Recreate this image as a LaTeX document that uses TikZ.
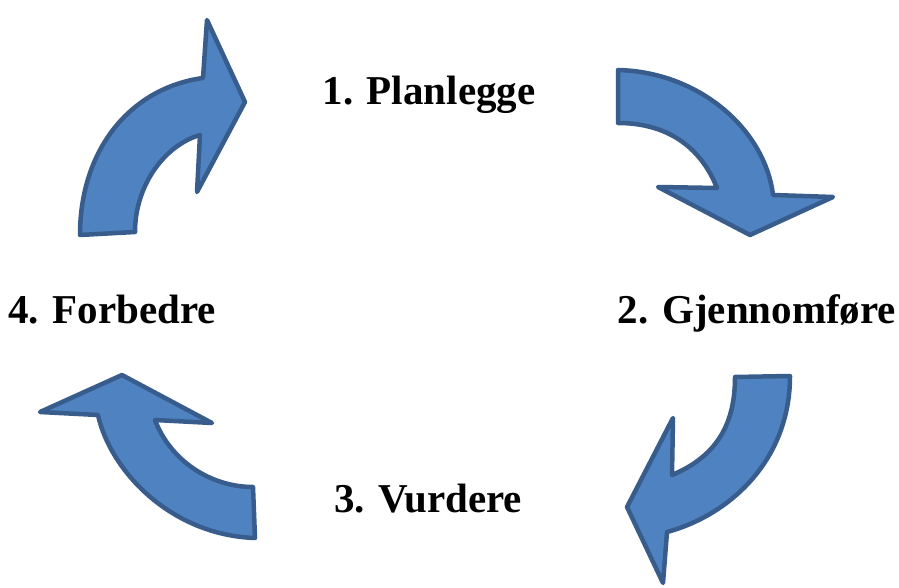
\documentclass[tikz,border=0pt]{standalone}
\usepackage{fontspec}
\setmainfont{Liberation Serif}
\usepackage{xcolor}
\usepackage{tikz}
\definecolor{arrowfill}{HTML}{4F82C0}
\definecolor{arrowline}{HTML}{385D8C}

\begin{document}
\begin{tikzpicture}[x=1pt,y=-1pt]
\tikzset{StepLabel/.style={anchor=base,font=\fontsize{41}{48}\selectfont\bfseries}}
\tikzset{BlockArrow/.style={fill=arrowfill,draw=arrowline,line width=4.5pt,line join=round}}
\useasboundingbox (0,0) rectangle (899,588);
\node[StepLabel] (plan) at (429,105) {1. Planlegge};
\node[StepLabel] (gjen) at (757,323) {2. Gjennomføre};
\node[StepLabel] (vurd) at (428,512) {3. Vurdere};
\node[StepLabel] (forb) at (112,323) {4. Forbedre};
\path[BlockArrow] (80,235) .. controls (80,150) and (130,88) .. (203,78)
  -- (207,20) -- (245,102) -- (197,192) -- (200,135)
  .. controls (165,145) and (135,185) .. (135,232) -- cycle;
\path[BlockArrow] (618,70) .. controls (700,72) and (765,130) .. (773,195)
  -- (833,197) -- (750,235) -- (658,187) -- (717,188)
  .. controls (700,145) and (665,123) .. (618,123) -- cycle;
\path[BlockArrow] (790,376) .. controls (790,460) and (730,515) .. (667,532)
  -- (663,583) -- (627,507) -- (673,418) -- (672,475)
  .. controls (720,455) and (735,420) .. (735,377) -- cycle;
\path[BlockArrow] (255,538) .. controls (170,535) and (110,470) .. (98,415)
  -- (40,412) -- (122,375) -- (212,423) -- (155,420)
  .. controls (170,460) and (210,487) .. (253,487) -- cycle;
\end{tikzpicture}
\end{document}
